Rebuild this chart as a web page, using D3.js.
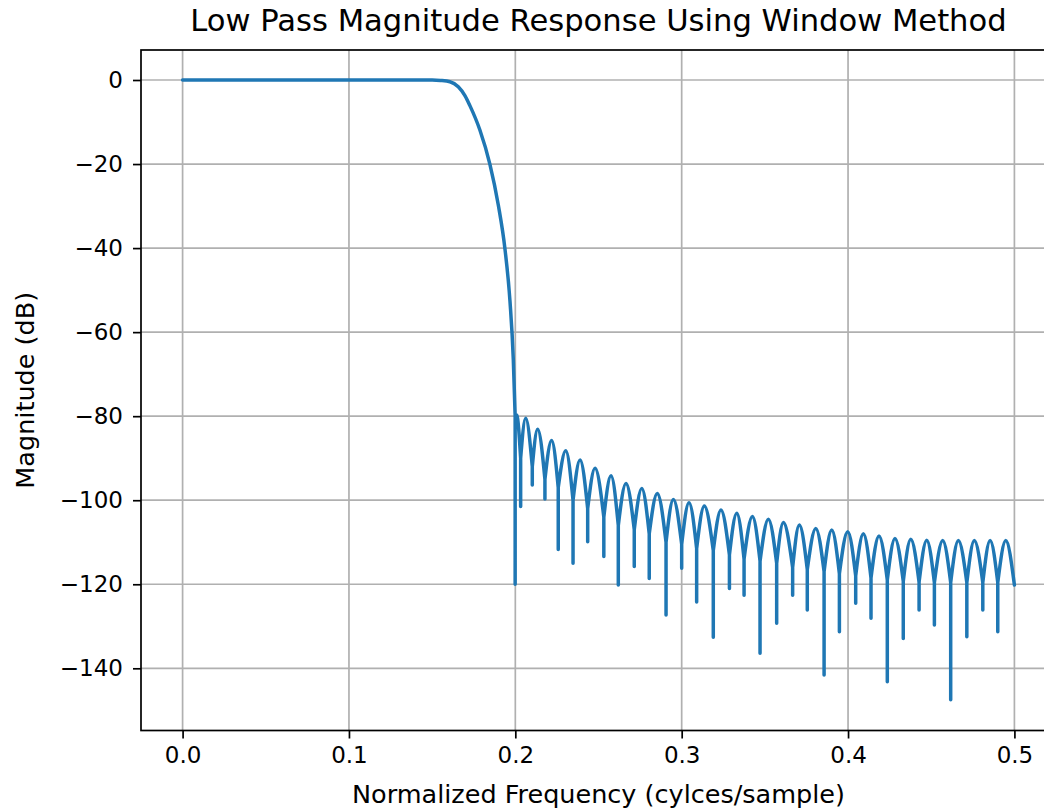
<!DOCTYPE html>
<html>
<head>
<meta charset="utf-8">
<script src="https://cdn.jsdelivr.net/npm/d3@7"></script>
<style>
    html, body { margin: 0; padding: 0; background: #fff; }
    svg { display: block; font-family: "DejaVu Sans", sans-serif; }
</style>
</head>
<body>
<div id="chart"></div>
<script>
// passband + transition (normalized freq, dB)
const passFreq = [0, 0.05, 0.10, 0.14, 0.150, 0.155, 0.1607, 0.1657, 0.1697, 0.1727, 0.1787, 0.1847, 0.1898, 0.1938, 0.1968, 0.1988, 0.1999];
const passDb   = [0, 0, 0, 0, 0, -0.1, -0.4, -1.6, -3.7, -6.1, -11.9, -20.0, -29.8, -40.3, -52.7, -66.6, -80];

// stopband nulls: where the spike sits, how deep it goes, where the lobes meet
const nullFreq = [0.1999, 0.2032, 0.2102, 0.2178, 0.2258, 0.2347, 0.2435, 0.2532, 0.2619, 0.2715, 0.2805,
    0.2906, 0.3000, 0.3090, 0.3190, 0.3287, 0.3375, 0.3471, 0.3571, 0.3667, 0.3755, 0.3856,
    0.3948, 0.4046, 0.4138, 0.4236, 0.4332, 0.4427, 0.4519, 0.4617, 0.4714, 0.4810, 0.4900];
const nullDepthDb = [-120, -101.5, -96.4, -99.7, -111.7, -115.0, -109.9, -113.4, -120.2, -115.8, -118.6,
    -127.3, -116.2, -124.2, -132.6, -121.0, -122.6, -136.4, -129.3, -122.6, -126.1, -141.6,
    -131.3, -124.5, -128.1, -143.2, -132.9, -126.1, -129.7, -147.5, -132.5, -126.1, -131.3];
const nullTopDb = [-80, -90, -92, -95, -97, -100, -102, -104, -106, -107, -108,
    -110, -110.5, -111.5, -112, -113, -114, -114.5, -115, -116, -116.5, -117,
    -117.5, -118, -118.5, -119, -119.3, -119.5, -119.6, -119.6, -119.6, -119.6, -119.6];

// stopband sidelobe peaks
const peakFreq = [0.2008, 0.2062, 0.2134, 0.2218, 0.2303, 0.2389, 0.2479, 0.2575, 0.2665, 0.2760, 0.2853,
    0.2950, 0.3044, 0.3136, 0.3236, 0.3331, 0.3425, 0.3521, 0.3611, 0.3707, 0.3806, 0.3902,
    0.3998, 0.4092, 0.4186, 0.4282, 0.4377, 0.4473, 0.4569, 0.4663, 0.4759, 0.4854, 0.4948];
const peakDb = [-79.7, -80.5, -83.1, -85.8, -88.2, -90.4, -92.4, -94.2, -96.0, -97.2, -98.4,
    -99.8, -100.6, -101.4, -102.3, -103.1, -103.9, -104.5, -105.3, -105.9, -106.7, -107.1,
    -107.5, -108.0, -108.5, -109.1, -109.3, -109.5, -109.6, -109.6, -109.6, -109.6, -109.6];

// last sample
const endFreq = 0.5;
const endDb = -120.2;

const xTicks = [0, 0.1, 0.2, 0.3, 0.4, 0.5];
const yTicks = [0, -20, -40, -60, -80, -100, -120, -140];

const title = "Low Pass Magnitude Response Using Window Method";
const xLabel = "Normalized Frequency (cylces/sample)";
const yLabel = "Magnitude (dB)";

const width = 1044;
const height = 809;
const margin = { left: 141, right: 1056, top: 50, bottom: 730.5 };

const svg = d3.select("#chart").append("svg")
    .attr("width", width)
    .attr("height", height)
    .attr("viewBox", [0, 0, width, height]);

// scales
const x = d3.scaleLinear().domain([-0.025, 0.525]).range([margin.left, margin.right]);
const y = d3.scaleLinear().domain([-154.8, 7.14]).range([margin.bottom, margin.top]);

const clipId = "plot-clip";
svg.append("clipPath").attr("id", clipId)
    .append("rect")
    .attr("x", margin.left)
    .attr("y", margin.top)
    .attr("width", margin.right - margin.left)
    .attr("height", margin.bottom - margin.top);

// grid
const grid = svg.append("g").attr("stroke", "#b0b0b0").attr("stroke-width", 1.7);
grid.selectAll("line.gx")
    .data(xTicks)
    .join("line")
    .attr("class", "gx")
    .attr("x1", d => x(d)).attr("x2", d => x(d))
    .attr("y1", margin.top).attr("y2", margin.bottom);
grid.selectAll("line.gy")
    .data(yTicks)
    .join("line")
    .attr("class", "gy")
    .attr("x1", margin.left).attr("x2", margin.right)
    .attr("y1", d => y(d)).attr("y2", d => y(d));

// response curve
const smooth = d3.line().x(d => x(d[0])).y(d => y(d[1])).curve(d3.curveMonotoneX);
const straight = d3.line().x(d => x(d[0])).y(d => y(d[1]));

let pathData = smooth(d3.zip(passFreq, passDb));
nullFreq.forEach((f, i) => {
    pathData += straight([[f, nullTopDb[i]], [f, nullDepthDb[i]]]);
});
peakFreq.forEach((f, i) => {
    const right = i + 1 < nullFreq.length
        ? [nullFreq[i + 1], nullTopDb[i + 1]]
        : [endFreq, endDb];
    pathData += smooth([[nullFreq[i], nullTopDb[i]], [f, peakDb[i]], right]);
});

svg.append("path")
    .attr("d", pathData)
    .attr("fill", "none")
    .attr("stroke", "#1f77b4")
    .attr("stroke-width", 3.5)
    .attr("stroke-linejoin", "round")
    .attr("stroke-linecap", "round")
    .attr("clip-path", `url(#${clipId})`);

// axes
const tickFont = 23;

const xAxis = svg.append("g")
    .attr("transform", `translate(0,${margin.bottom})`)
    .call(d3.axisBottom(x).tickValues(xTicks).tickFormat(d3.format(".1f")).tickSize(8).tickSizeOuter(0).tickPadding(8));
const yAxis = svg.append("g")
    .attr("transform", `translate(${margin.left},0)`)
    .call(d3.axisLeft(y).tickValues(yTicks).tickFormat(d3.format("d")).tickSize(8).tickSizeOuter(0).tickPadding(10));

[xAxis, yAxis].forEach(g => {
    g.select(".domain").remove();
    g.selectAll(".tick line").attr("stroke", "#000").attr("stroke-width", 1.7);
    g.selectAll(".tick text")
        .attr("fill", "#000")
        .style("font-family", "DejaVu Sans")
        .style("font-size", `${tickFont}px`);
});

// spines
svg.append("rect")
    .attr("x", margin.left)
    .attr("y", margin.top)
    .attr("width", margin.right - margin.left)
    .attr("height", margin.bottom - margin.top)
    .attr("fill", "none")
    .attr("stroke", "#000")
    .attr("stroke-width", 1.7);

// labels
svg.append("text")
    .attr("x", (margin.left + margin.right) / 2)
    .attr("y", 31)
    .attr("text-anchor", "middle")
    .style("font-size", "30.6px")
    .text(title);

svg.append("text")
    .attr("x", (margin.left + margin.right) / 2)
    .attr("y", 803)
    .attr("text-anchor", "middle")
    .style("font-size", "25.5px")
    .text(xLabel);

svg.append("text")
    .attr("transform", `translate(33.5,${(margin.top + margin.bottom) / 2}) rotate(-90)`)
    .attr("text-anchor", "middle")
    .style("font-size", "25.5px")
    .text(yLabel);
</script>
</body>
</html>
